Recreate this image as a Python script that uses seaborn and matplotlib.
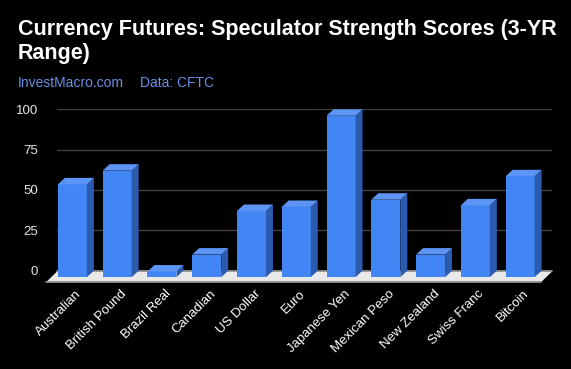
import matplotlib
matplotlib.use("Agg")
import matplotlib.pyplot as plt
from matplotlib.patches import Polygon
import seaborn as sns
import pandas as pd

# Values
currencies = ["Australian", "British Pound", "Brazil Real", "Canadian", "US Dollar", "Euro",
              "Japanese Yen", "Mexican Peso", "New Zealand", "Swiss Franc", "Bitcoin"]
scores = [57.5, 66.0, 3.5, 14.0, 41.0, 43.5, 100.0, 48.0, 14.0, 44.5, 62.5]
y_ticks = [0, 25, 50, 75, 100]

df = pd.DataFrame({"currency": currencies, "score": scores})

FRONT = "#4285f4"
SIDE = "#2c5aae"
TOP = "#5c95f6"

sns.set_theme(style="dark")
plt.rcParams["font.family"] = ["Liberation Sans", "DejaVu Sans"]

W, H = 571, 369
fig = plt.figure(figsize=(W / 100, H / 100), dpi=100, facecolor="black")

# axes placed in pixel terms: x -0.5 -> 57px, y 100 -> 109px, y -8 -> 284px
ax = fig.add_axes([57 / W, (H - 283.6) / H, (552 - 57) / W, (283.6 - 109.3) / H])
ax.set_facecolor("black")

sns.barplot(data=df, x="currency", y="score", color=FRONT, saturation=1,
            width=0.648, ax=ax, zorder=3)

ax.set_xlim(-0.5, 10.556)
ax.set_ylim(-8, 100)

# depth of the fake 3d, in data units
DX = 0.156
DY = 4.0

for p in ax.patches:
    x0 = p.get_x() - DX
    w = p.get_width()
    h = p.get_height()
    p.set_x(x0)
    p.set_y(-DY)
    p.set_linewidth(0)
    p.set_clip_on(False)
    x1 = x0 + w
    top = h - DY
    side = Polygon([(x1, -DY), (x1 + DX, 0), (x1 + DX, h), (x1, top)],
                   closed=True, facecolor=SIDE, lw=0, zorder=3, clip_on=False)
    lid = Polygon([(x0, top), (x0 + DX, h), (x1 + DX, h), (x1, top)],
                  closed=True, facecolor=TOP, lw=0, zorder=3, clip_on=False)
    ax.add_patch(side)
    ax.add_patch(lid)

# floor
fx0, fx1 = -0.5, 10.556
fdx, fb, ff = 0.25, -0.5, -7.3
floor = Polygon([(fx0, fb), (fx1, fb), (fx1 - fdx, ff), (fx0 - fdx, ff)],
                closed=True, facecolor="#e9e9e9", edgecolor="none", zorder=2, clip_on=False)
ax.add_patch(floor)
ax.plot([fx0, fx1], [fb, fb], color="#9a9a9a", lw=1.2, zorder=2, clip_on=False)
ax.plot([fx0 - fdx, fx1 - fdx], [ff, ff], color="#8a8a8a", lw=1.2, zorder=2, clip_on=False)

ax.set_yticks(y_ticks)
ax.yaxis.grid(True, color="#404040", lw=1)
ax.xaxis.grid(False)
ax.set_axisbelow(True)
for s in ax.spines.values():
    s.set_visible(False)

ax.set_xlabel("")
ax.set_ylabel("")
ax.tick_params(axis="y", length=0, pad=13.5, labelsize=9.5, labelcolor="#e6e6e6")
ax.tick_params(axis="x", length=0, pad=6, labelsize=9.5, labelcolor="white")
for lab in ax.get_xticklabels():
    lab.set_rotation(45)
    lab.set_ha("right")
    lab.set_va("center")
    lab.set_rotation_mode("anchor")

fig.text(18 / W, 1 - 19 / H, "Currency Futures: Speculator Strength Scores (3-YR\nRange)",
         color="white", fontsize=15.5, fontweight="bold", va="top", ha="left", linespacing=1.2)
fig.text(18 / W, 1 - 87 / H, "InvestMacro.com", color="#6b8fe6", fontsize=10, va="baseline")
fig.text(140 / W, 1 - 87 / H, "Data: CFTC", color="#6b8fe6", fontsize=10, va="baseline")

fig.savefig("out.png", dpi=100, facecolor="black")
